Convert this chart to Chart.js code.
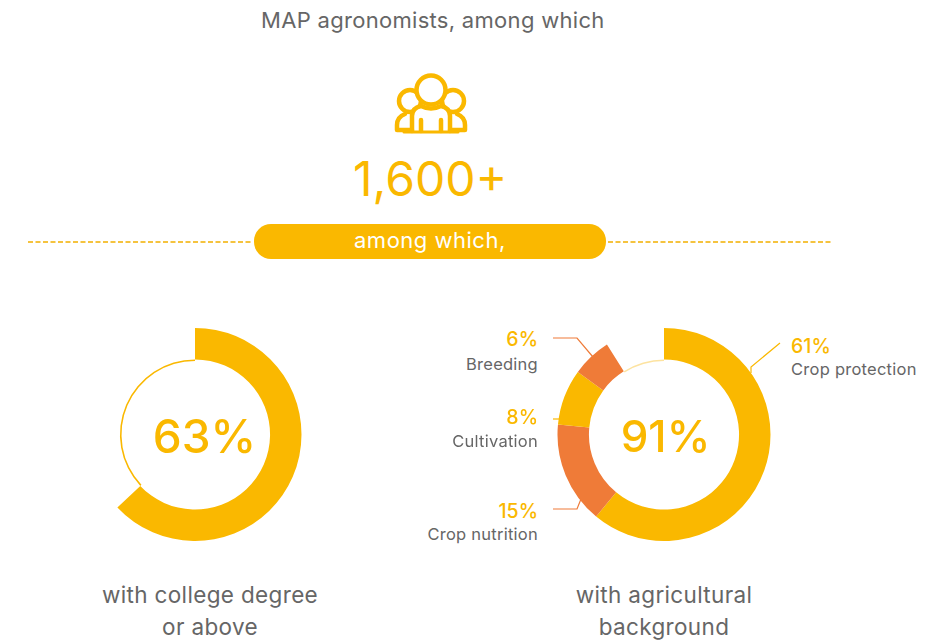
<!DOCTYPE html>
<html>
<head>
<meta charset="utf-8">
<style>
  html, body { margin: 0; padding: 0; background: #fff; }
  body { width: 947px; height: 640px; position: relative; overflow: hidden; font-family: Inter, "Open Sans", sans-serif; color: #666; }
  canvas { position: absolute; }
  svg { position: absolute; left: 0; top: 0; }
  .t { position: absolute; white-space: nowrap; line-height: 1; }
  .title { font-size: 22px; letter-spacing: 0.3px; left: 261px; top: 9px; }
  .big { font-size: 48px; color: #fab800; left: 353px; top: 155px; font-weight: 400; }
  .pill { position: absolute; left: 254px; top: 224px; width: 352px; height: 35px; border-radius: 17px; background: #fab800; }
  .pillText { font-size: 22px; letter-spacing: 0.5px; color: #fff; left: 354px; top: 229px; }
  .center { font-size: 46px; font-weight: 500; color: #fab800; transform: translateX(-50%); }
  .narrow { font-size: 44px; }
  .cap { font-size: 22.5px; letter-spacing: 0.35px; transform: translateX(-50%); }
  .pct { font-size: 19.5px; font-weight: 500; color: #fab800; }
  .name { font-size: 16.5px; letter-spacing: 0.25px; }
  .right { transform: translateX(-100%); }
</style>
</head>
<body>
<svg width="947" height="640" fill="none">
  <!-- dashed rule behind the pill -->
  <path d="M28 242H253M608 242H832" stroke="#f2b000" stroke-width="1.5" stroke-dasharray="5 2.5"/>
  <!-- people icon -->
  <g stroke="#fab800" stroke-width="4.5" stroke-linejoin="round" stroke-linecap="round">
    <circle cx="410" cy="101" r="11"/>
    <circle cx="453" cy="101" r="11"/>
    <circle cx="431" cy="90" r="14.5" fill="#fff"/>
    <path d="M412 131V116Q412 108 421 106Q431 111 441 106Q450 108 450 116V131" fill="#fff"/>
    <path d="M405 114Q397 117 397 125V130H412M457 114Q465 117 465 125V130H450"/>
    <path d="M404 132H458" stroke-width="3"/>
    <path d="M421 120V131M441 120V131"/>
  </g>
  <!-- leader lines -->
  <path d="M780 343L751 367V373" stroke="#fab800" stroke-width="1.2"/>
  <path d="M553 338H577L593 357" stroke="#ef7b38" stroke-width="1.2"/>
  <path d="M553 419H561" stroke="#fab800" stroke-width="1.2"/>
  <path d="M553 509H577L581 499" stroke="#ef7b38" stroke-width="1.2"/>
</svg>
<div class="t title">MAP agronomists, among which</div>
<div class="t big">1,600+</div>
<div class="pill"></div>
<div class="t pillText">among which,</div>
<canvas id="collegeChart" width="214" height="213" style="left:88px;top:328px"></canvas>
<canvas id="agriChart" width="214" height="213" style="left:557px;top:328px"></canvas>
<script src="https://cdn.jsdelivr.net/npm/chart.js@4"></script>
<script>
const YELLOW = "#fab800";
const ORANGE = "#ef7b38";

// left doughnut
const collegeLabels = ["College degree or above", "Other"];
const collegeValues = [63, 37];

// right doughnut: sweep, text as printed
const agriLabels = ["Crop protection", "Crop nutrition", "Cultivation", "Breeding", "Other"];
const agriValues = [61, 15.5, 8.5, 6, 9];
const agriColors = [YELLOW, ORANGE, YELLOW, ORANGE, "transparent"];
const agriText = ["61%", "15%", "8%", "6%"];

const OUTER_WEIGHT = 20;
const THIN_WEIGHT = 1;

function addText(text, x, y, cls) {
  const el = document.createElement("div");
  el.className = "t " + cls;
  el.textContent = text;
  el.style.left = x + "px";
  el.style.top = y + "px";
  document.body.appendChild(el);
}

function ringOptions() {
  return {
    responsive: false,
    animation: false,
    cutout: "69%",
    rotation: 0,
    plugins: { legend: { display: false }, tooltip: { enabled: false } },
    layout: { padding: 0 }
  };
}

new Chart(document.getElementById("collegeChart").getContext("2d"), {
  type: "doughnut",
  data: {
    labels: collegeLabels,
    datasets: [
      { data: collegeValues, backgroundColor: [YELLOW, "transparent"], borderWidth: 0, weight: OUTER_WEIGHT },
      { data: collegeValues, backgroundColor: ["transparent", YELLOW], borderWidth: 0, weight: THIN_WEIGHT }
    ]
  },
  options: ringOptions()
});

new Chart(document.getElementById("agriChart").getContext("2d"), {
  type: "doughnut",
  data: {
    labels: agriLabels,
    datasets: [
      { data: agriValues, backgroundColor: agriColors, borderWidth: 0, weight: OUTER_WEIGHT },
      { data: agriValues, backgroundColor: ["transparent", "transparent", "transparent", "transparent", "#fde3a0"], borderWidth: 0, weight: THIN_WEIGHT }
    ]
  },
  options: ringOptions()
});

// centre numbers and captions
addText("63%", 204.5, 413, "center");
addText("91%", 665.5, 414, "center narrow");
addText("with college degree", 210, 584, "cap");
addText("or above", 210, 616, "cap");
addText("with agricultural", 664, 584, "cap");
addText("background", 664, 616, "cap");

// slice labels
addText(agriText[0], 791, 337, "pct");
addText(agriLabels[0], 791, 361, "name");
addText(agriText[3], 538, 330, "pct right");
addText(agriLabels[3], 538, 356, "name right");
addText(agriText[2], 538, 408, "pct right");
addText(agriLabels[2], 538, 433, "name right");
addText(agriText[1], 538, 502, "pct right");
addText(agriLabels[1], 538, 526, "name right");
</script>
</body>
</html>
